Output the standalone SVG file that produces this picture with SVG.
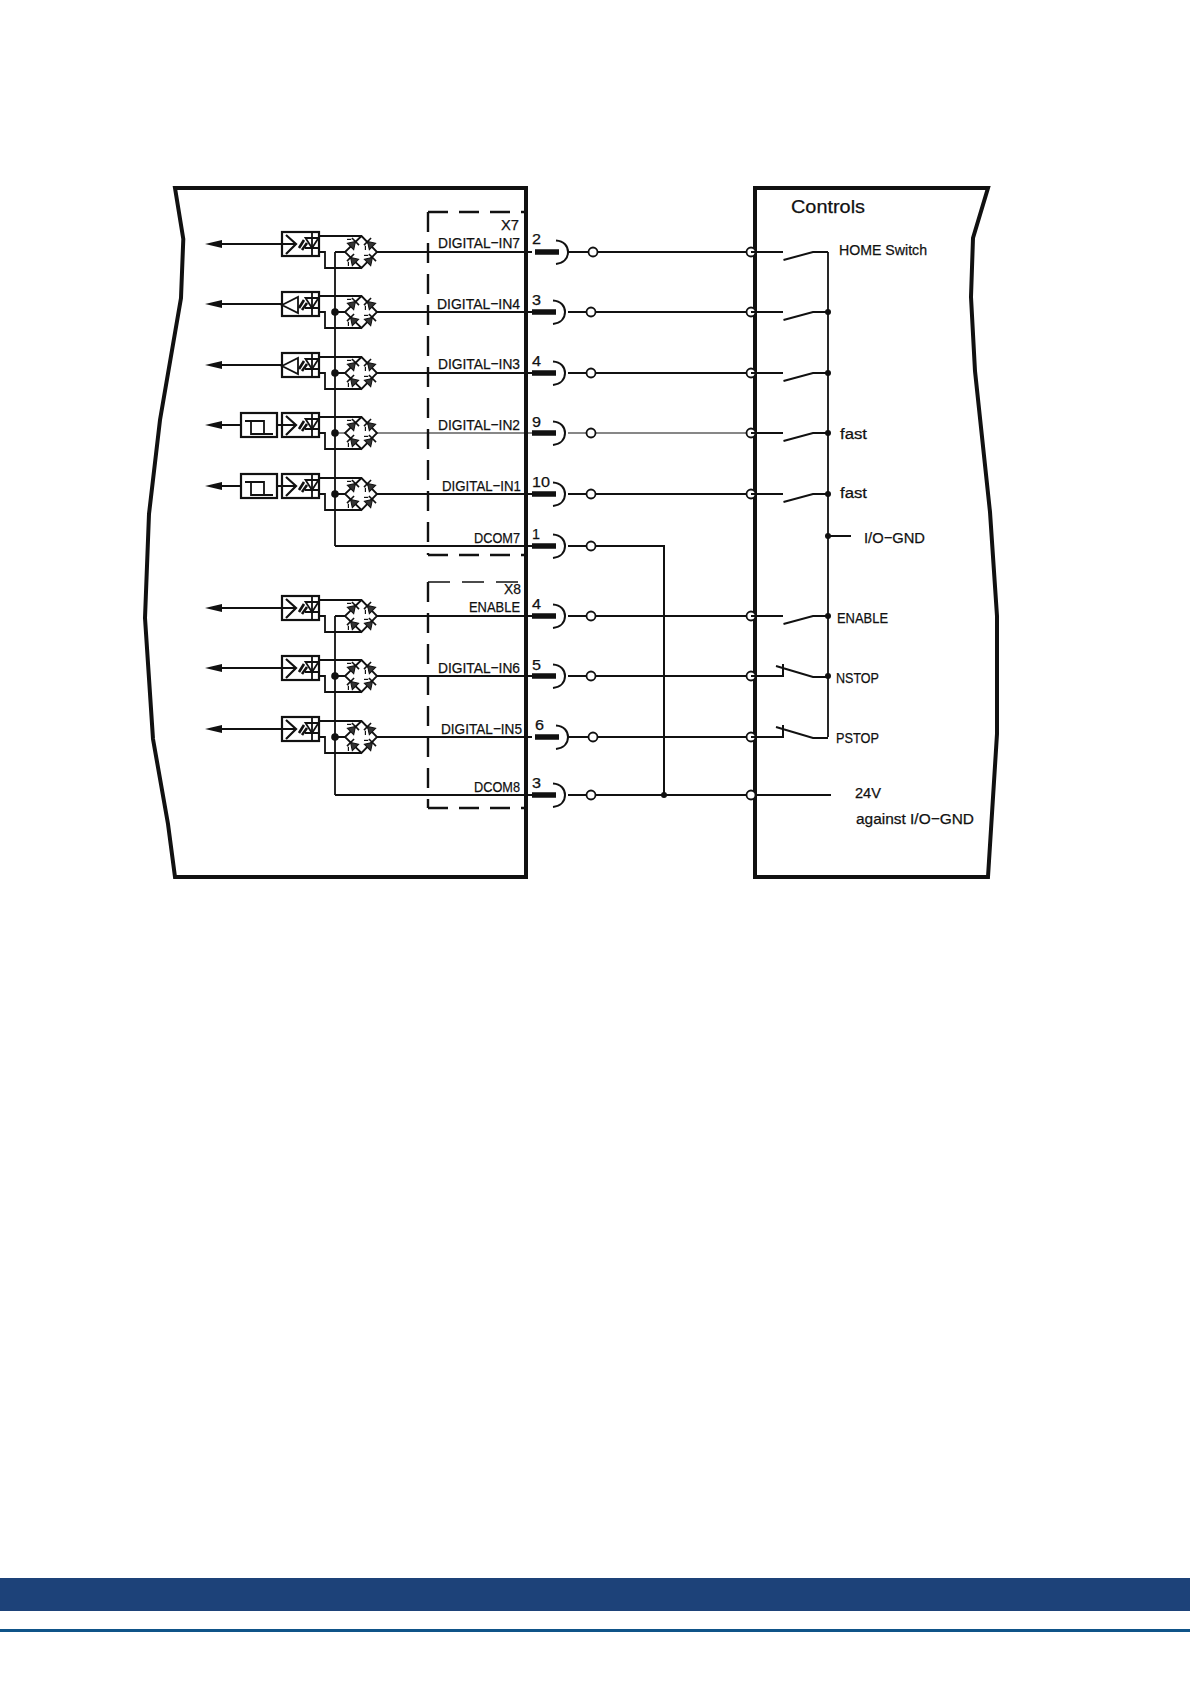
<svg xmlns="http://www.w3.org/2000/svg" width="1190" height="1683" viewBox="0 0 1190 1683">
<style>
text{font-family:"Liberation Sans",Arial,sans-serif;fill:#111;stroke:#111;stroke-width:.25;font-size:15.5px}
.s{fill:none;stroke:#111;stroke-width:1.8}
.o{fill:none;stroke:#111;stroke-width:4;stroke-linejoin:miter}
.w{fill:none;stroke:#111;stroke-width:2}
.t{fill:none;stroke:#111;stroke-width:1.2}
.c{fill:#fff;stroke:#111;stroke-width:1.8}
.d{fill:#111}
.b{fill:none;stroke:#111;stroke-width:2.4;stroke-dasharray:20 11}
.bt{fill:none;stroke:#111;stroke-width:1.5;stroke-dasharray:22 12}
.p{fill:none;stroke:#111;stroke-width:5.5}
</style>
<defs>
<g id="diode"><path d="M-3.500 -4.500L3.500 0L-3.500 4.500Z" fill="#333" stroke="#111" stroke-width="1"/><path class="s" style="stroke-width:1.6" d="M3.500 -5V5"/><path class="s" style="stroke-width:1.2" d="M-1 -7.500L2 -4.500"/></g>
<g id="bridge">
<path class="s" d="M319 -16H361.500L377 0L361.500 16L345 0L361.500 -16M361.500 16H325V0H319"/>
<use href="#diode" transform="translate(353 -8) rotate(-45)"/>
<use href="#diode" transform="translate(370 -8) rotate(225)"/>
<use href="#diode" transform="translate(353 8) rotate(225)"/>
<use href="#diode" transform="translate(370 8) rotate(-45)"/>
</g>
<g id="led"><rect x="282" y="-20" width="37" height="24" class="s" style="stroke-width:2.2"/><path class="s" d="M312 -20V4M305 -4H319"/><path d="M305.500 -14H318.500L312 -4Z" fill="none" stroke="#111" stroke-width="1.8"/><path d="M304 -12L299 -4M307 -9L302 -2" stroke="#111" stroke-width="2.6" fill="none"/></g>
<g id="photo"><use href="#led"/><path class="s" style="stroke-width:2.2" d="M282 -8H296M286 -17L296 -8L286 2"/></g>
<g id="tri"><use href="#led"/><path class="s" d="M282 -7L298 -15V1Z"/></g>
<g id="arrow"><path d="M205 -8L222 -12V-4Z" class="d"/></g>
<g id="schmitt"><rect x="241" y="-20" width="36" height="24" class="s" style="stroke-width:2.2"/><path class="s" d="M245 -12H264V1M251 -12V1H273M277 -8H282M222 -8H241"/></g>
<g id="pin"><path class="p" d="M0 0H24"/><path class="s" d="M21 -11.500C29 -11 33 -6 33 0C33 6 29 11 21 12" style="stroke-width:2"/></g>
<g id="no"><path class="s" d="M0 0H32M32.500 8L62 0H77" style="stroke-width:2"/></g>
<g id="nc"><path class="s" d="M0 0H32V-12M25 -10L62 1H77" style="stroke-width:2"/></g>
</defs>
<rect width="1190" height="1683" fill="#fff"/>
<g id="footer"><rect x="0" y="1578" width="1190" height="33" fill="#1d4279"/><rect x="0" y="1629" width="1190" height="3" fill="#0f5488"/></g>
<g id="drive"><path class="o" d="M175 188H526V877H175L168 824L153 739L145 618L149 514L160 420L181 298L183.300 239Z"/></g>
<g id="x7-frame"><path class="b" d="M428 212H526M428 212V555"/><path class="b" d="M428 555H526"/><text x="501" y="230" textLength="18" lengthAdjust="spacingAndGlyphs">X7</text></g>
<g id="x8-frame"><path class="bt" d="M428 582H526"/><path class="b" d="M428 582V808"/><path class="b" d="M428 808H526"/><text x="504" y="594" textLength="17" lengthAdjust="spacingAndGlyphs">X8</text></g>
<g id="controls"><path class="o" d="M755 188H988L973 238L971 297L975 371L990 512L997 616L997 734L988 877H755Z"/><text x="791" y="213" style="font-size:19px" textLength="74" lengthAdjust="spacingAndGlyphs">Controls</text></g>
<g id="connectors">
<path class="s" d="M335 252V546M335 616V795"/>
<path class="w" d="M335 252H345M377 252H532M568 252H751"/>
<path class="w" d="M335 312H345M377 312H532M568 312H751"/>
<path class="w" d="M335 373H345M377 373H532M568 373H751"/>
<path class="t" d="M335 433H345M377 433H532M568 433H751"/>
<path class="w" d="M335 494H345M377 494H532M568 494H751"/>
<path class="w" d="M335 546H532M568 546H664V795"/>
<path class="w" d="M335 616H345M377 616H532M568 616H751"/>
<path class="w" d="M335 676H345M377 676H532M568 676H751"/>
<path class="w" d="M335 737H345M377 737H532M568 737H751"/>
<path class="w" d="M335 795H532M568 795H831"/>
<path class="s" d="M828 252V737M828 536H851"/>
<g class="d"><circle cx="335" cy="312" r="3.800"/><circle cx="335" cy="373" r="3.800"/><circle cx="335" cy="433" r="3.800"/><circle cx="335" cy="494" r="3.800"/><circle cx="335" cy="676" r="3.800"/><circle cx="335" cy="737" r="3.800"/><circle cx="664" cy="795" r="3"/><circle cx="828" cy="312" r="3"/><circle cx="828" cy="373" r="3"/><circle cx="828" cy="433" r="3"/><circle cx="828" cy="494" r="3"/><circle cx="828" cy="536" r="3"/><circle cx="828" cy="616" r="3"/><circle cx="828" cy="676" r="3"/></g>
</g>
<g id="in7"><g transform="translate(0 252)"><use href="#bridge"/><use href="#photo"/><use href="#arrow"/><path class="w" d="M222 -8H282"/><use href="#pin" x="535"/></g><circle class="c" cx="593" cy="252" r="4.500"/><circle class="c" cx="751" cy="252" r="4.500"/><use href="#no" transform="translate(751 252)"/><text x="438" y="248" textLength="82" lengthAdjust="spacingAndGlyphs">DIGITAL−IN7</text><text x="532" y="244" textLength="9" lengthAdjust="spacingAndGlyphs">2</text></g>
<g id="in4"><g transform="translate(0 312)"><use href="#bridge"/><use href="#tri"/><use href="#arrow"/><path class="w" d="M222 -8H282"/><use href="#pin" x="532"/></g><circle class="c" cx="591" cy="312" r="4.500"/><circle class="c" cx="751" cy="312" r="4.500"/><use href="#no" transform="translate(751 312)"/><text x="437" y="309" textLength="83" lengthAdjust="spacingAndGlyphs">DIGITAL−IN4</text><text x="532" y="305" textLength="9" lengthAdjust="spacingAndGlyphs">3</text></g>
<g id="in3"><g transform="translate(0 373)"><use href="#bridge"/><use href="#tri"/><use href="#arrow"/><path class="w" d="M222 -8H282"/><use href="#pin" x="532"/></g><circle class="c" cx="591" cy="373" r="4.500"/><circle class="c" cx="751" cy="373" r="4.500"/><use href="#no" transform="translate(751 373)"/><text x="438" y="369" textLength="82" lengthAdjust="spacingAndGlyphs">DIGITAL−IN3</text><text x="532" y="366" textLength="9" lengthAdjust="spacingAndGlyphs">4</text></g>
<g id="in2"><g transform="translate(0 433)"><use href="#bridge"/><use href="#photo"/><use href="#schmitt"/><use href="#arrow"/><use href="#pin" x="532"/></g><circle class="c" cx="591" cy="433" r="4.500"/><circle class="c" cx="751" cy="433" r="4.500"/><use href="#no" transform="translate(751 433)"/><text x="438" y="430" textLength="82" lengthAdjust="spacingAndGlyphs">DIGITAL−IN2</text><text x="532" y="427" textLength="9" lengthAdjust="spacingAndGlyphs">9</text><text x="840" y="439" textLength="27" lengthAdjust="spacingAndGlyphs">fast</text></g>
<g id="in1"><g transform="translate(0 494)"><use href="#bridge"/><use href="#photo"/><use href="#schmitt"/><use href="#arrow"/><use href="#pin" x="532"/></g><circle class="c" cx="591" cy="494" r="4.500"/><circle class="c" cx="751" cy="494" r="4.500"/><use href="#no" transform="translate(751 494)"/><text x="442" y="491" textLength="79" lengthAdjust="spacingAndGlyphs">DIGITAL−IN1</text><text x="532" y="487" textLength="18" lengthAdjust="spacingAndGlyphs">10</text><text x="840" y="498" textLength="27" lengthAdjust="spacingAndGlyphs">fast</text></g>
<g id="dcom7"><use href="#pin" transform="translate(532 546)"/><circle class="c" cx="591" cy="546" r="4.500"/><text x="474" y="543" textLength="46" lengthAdjust="spacingAndGlyphs">DCOM7</text><text x="532" y="539" textLength="8" lengthAdjust="spacingAndGlyphs">1</text></g>
<g id="io-gnd"><text x="864" y="543" textLength="61" lengthAdjust="spacingAndGlyphs">I/O−GND</text></g>
<g id="enable"><g transform="translate(0 616)"><use href="#bridge"/><use href="#photo"/><use href="#arrow"/><path class="w" d="M222 -8H282"/><use href="#pin" x="532"/></g><circle class="c" cx="591" cy="616" r="4.500"/><circle class="c" cx="751" cy="616" r="4.500"/><use href="#no" transform="translate(751 616)"/><text x="469" y="612" textLength="51" lengthAdjust="spacingAndGlyphs">ENABLE</text><text x="532" y="609" textLength="9" lengthAdjust="spacingAndGlyphs">4</text><text x="837" y="623" textLength="51" lengthAdjust="spacingAndGlyphs">ENABLE</text></g>
<g id="in6"><g transform="translate(0 676)"><use href="#bridge"/><use href="#photo"/><use href="#arrow"/><path class="w" d="M222 -8H282"/><use href="#pin" x="532"/></g><circle class="c" cx="591" cy="676" r="4.500"/><circle class="c" cx="751" cy="676" r="4.500"/><use href="#nc" transform="translate(751 676)"/><text x="438" y="673" textLength="82" lengthAdjust="spacingAndGlyphs">DIGITAL−IN6</text><text x="532" y="670" textLength="9" lengthAdjust="spacingAndGlyphs">5</text><text x="836" y="683" textLength="43" lengthAdjust="spacingAndGlyphs">NSTOP</text></g>
<g id="in5"><g transform="translate(0 737)"><use href="#bridge"/><use href="#photo"/><use href="#arrow"/><path class="w" d="M222 -8H282"/><use href="#pin" x="535"/></g><circle class="c" cx="593" cy="737" r="4.500"/><circle class="c" cx="751" cy="737" r="4.500"/><use href="#nc" transform="translate(751 737)"/><text x="441" y="734" textLength="81" lengthAdjust="spacingAndGlyphs">DIGITAL−IN5</text><text x="535" y="730" textLength="9" lengthAdjust="spacingAndGlyphs">6</text><text x="836" y="743" textLength="43" lengthAdjust="spacingAndGlyphs">PSTOP</text></g>
<g id="dcom8"><use href="#pin" transform="translate(532 795)"/><circle class="c" cx="591" cy="795" r="4.500"/><circle class="c" cx="751" cy="795" r="4.500"/><text x="474" y="792" textLength="46" lengthAdjust="spacingAndGlyphs">DCOM8</text><text x="532" y="788" textLength="9" lengthAdjust="spacingAndGlyphs">3</text><text x="855" y="798" textLength="26" lengthAdjust="spacingAndGlyphs">24V</text><text x="856" y="824" textLength="118" lengthAdjust="spacingAndGlyphs">against I/O−GND</text></g>
<g id="home"><text x="839" y="255" textLength="88" lengthAdjust="spacingAndGlyphs">HOME Switch</text></g>
</svg>
